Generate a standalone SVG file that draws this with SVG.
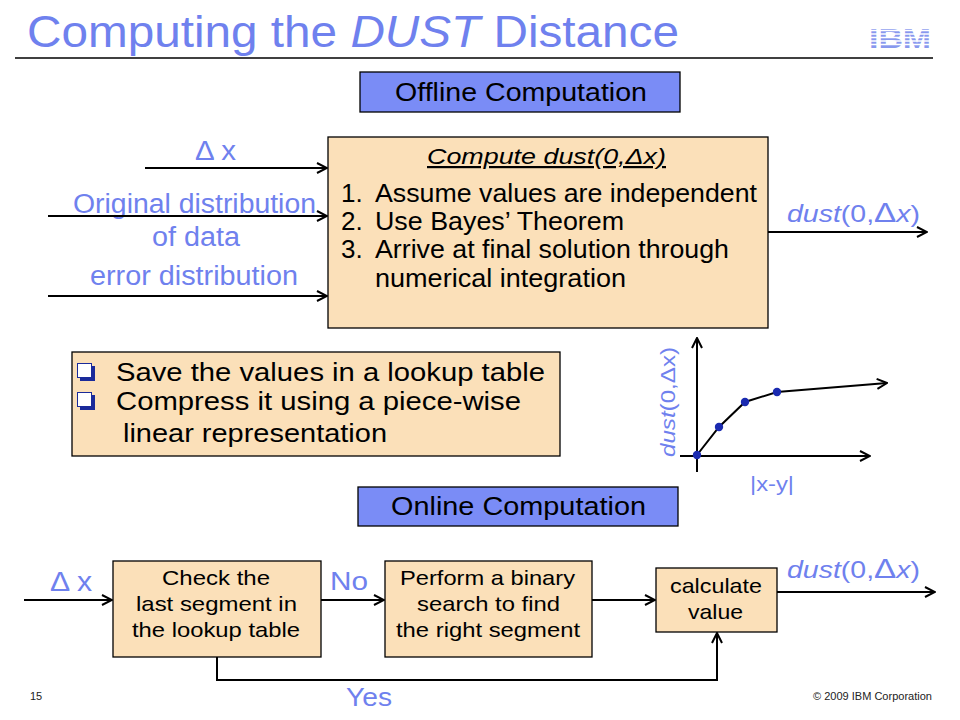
<svg xmlns="http://www.w3.org/2000/svg" width="960" height="720" viewBox="0 0 960 720">
<defs>
<style>
text{font-family:"Liberation Sans",Arial,sans-serif}
.blue{fill:#6f81ee}
.blk{fill:#000}
.peach{fill:#fbe0b9;stroke:#000;stroke-width:1.3}
.hdr{fill:#7a8cf6;stroke:#000;stroke-width:1.3}
.arr{stroke:#000;stroke-width:2;fill:none;marker-end:url(#ah)}
.dot{fill:#1a2ab0}
.bs{fill:#1a2a9a}
.bf{fill:#fff;stroke:#1a2a9a;stroke-width:1}
</style>
<marker id="ah" viewBox="0 0 12 12" refX="11" refY="6" markerWidth="12" markerHeight="12" markerUnits="userSpaceOnUse" orient="auto">
<path d="M1,1 L11,6 L1,11" fill="none" stroke="#000" stroke-width="2"/>
</marker>
</defs>
<rect width="960" height="720" fill="#fff"/>

<g id="title">
<text x="27" y="47" font-size="44" class="blue" textLength="652" lengthAdjust="spacingAndGlyphs">Computing the <tspan font-style="italic">DUST</tspan> Distance</text>
<line x1="15" y1="58" x2="933" y2="58" stroke="#000" stroke-width="1.5"/>
</g>
<g id="ibm-logo">
<text x="900" y="48" font-size="27" font-weight="bold" fill="#8898ee" text-anchor="middle" textLength="62" lengthAdjust="spacingAndGlyphs">IBM</text>
<g stroke="#fff" stroke-width="1.4">
<line x1="864" y1="27" x2="936" y2="27"/><line x1="864" y1="30.5" x2="936" y2="30.5"/><line x1="864" y1="34" x2="936" y2="34"/><line x1="864" y1="37.5" x2="936" y2="37.5"/><line x1="864" y1="41" x2="936" y2="41"/><line x1="864" y1="44.5" x2="936" y2="44.5"/>
</g>
</g>

<g id="offline-header">
<rect x="360" y="72" width="320" height="40" class="hdr"/>
<text x="395" y="101" font-size="26" class="blk" textLength="252" lengthAdjust="spacingAndGlyphs">Offline Computation</text>
</g>

<g id="compute-box">
<rect x="328" y="137" width="440" height="191" class="peach"/>
<text x="427" y="164" font-size="22" font-style="italic" text-decoration="underline" class="blk" textLength="239" lengthAdjust="spacingAndGlyphs">Compute dust(0,Δx)</text>
<text x="341" y="202" font-size="26" class="blk">1.</text>
<text x="375" y="202" font-size="26" class="blk" textLength="382" lengthAdjust="spacingAndGlyphs">Assume values are independent</text>
<text x="341" y="230" font-size="26" class="blk">2.</text>
<text x="375" y="230" font-size="26" class="blk" textLength="249" lengthAdjust="spacingAndGlyphs">Use Bayes’ Theorem</text>
<text x="341" y="258" font-size="26" class="blk">3.</text>
<text x="375" y="258" font-size="26" class="blk" textLength="354" lengthAdjust="spacingAndGlyphs">Arrive at final solution through</text>
<text x="375" y="287" font-size="26" class="blk" textLength="251" lengthAdjust="spacingAndGlyphs">numerical integration</text>
</g>

<g id="input-labels">
<text x="195" y="160" font-size="28" class="blue" textLength="41" lengthAdjust="spacingAndGlyphs">Δ x</text>
<text x="73" y="213" font-size="27" class="blue" textLength="243" lengthAdjust="spacingAndGlyphs">Original distribution</text>
<text x="152" y="246" font-size="27" class="blue" textLength="88" lengthAdjust="spacingAndGlyphs">of data</text>
<text x="90" y="285" font-size="27" class="blue" textLength="208" lengthAdjust="spacingAndGlyphs">error distribution</text>
<text x="787" y="222" font-size="24" class="blue" textLength="133" lengthAdjust="spacingAndGlyphs"><tspan font-style="italic">dust</tspan>(0,<tspan font-size="28">Δ</tspan><tspan font-style="italic">x</tspan>)</text>
</g>

<g id="bullet-box">
<rect x="72" y="352" width="488" height="104" class="peach"/>
<rect x="80" y="366" width="15" height="15" class="bs"/>
<rect x="77.5" y="363.5" width="14" height="14" class="bf"/>
<rect x="80" y="395" width="15" height="15" class="bs"/>
<rect x="77.5" y="392.5" width="14" height="14" class="bf"/>
<text x="116" y="381" font-size="25" class="blk" textLength="429" lengthAdjust="spacingAndGlyphs">Save the values in a lookup table</text>
<text x="116" y="410" font-size="25" class="blk" textLength="405" lengthAdjust="spacingAndGlyphs">Compress it using a piece-wise</text>
<text x="123" y="442" font-size="25" class="blk" textLength="264" lengthAdjust="spacingAndGlyphs">linear representation</text>
</g>

<g id="graph">
<line x1="697" y1="472" x2="697" y2="338" class="arr"/>
<line x1="680" y1="456" x2="870" y2="456" class="arr"/>
<polyline points="697,455 719,427 745,402 777,392 887,383" class="arr"/>
<circle cx="697" cy="455" r="4.2" class="dot"/>
<circle cx="719" cy="427" r="4.2" class="dot"/>
<circle cx="745" cy="402" r="4.2" class="dot"/>
<circle cx="777" cy="392" r="4.2" class="dot"/>
<text transform="translate(675,457) rotate(-90)" font-size="20" class="blue" textLength="110" lengthAdjust="spacingAndGlyphs"><tspan font-style="italic">dust</tspan>(0,Δx)</text>
<text x="750" y="491" font-size="20" class="blue" textLength="44" lengthAdjust="spacingAndGlyphs">|x-y|</text>
</g>

<g id="online-header">
<rect x="358" y="487" width="320" height="39" class="hdr"/>
<text x="391" y="515" font-size="26" class="blk" textLength="255" lengthAdjust="spacingAndGlyphs">Online Computation</text>
</g>

<g id="check-box">
<rect x="113" y="561" width="208" height="96" class="peach"/>
<text x="162" y="585" font-size="21" class="blk" textLength="108" lengthAdjust="spacingAndGlyphs">Check the</text>
<text x="136" y="611" font-size="21" class="blk" textLength="161" lengthAdjust="spacingAndGlyphs">last segment in</text>
<text x="132" y="637" font-size="21" class="blk" textLength="168" lengthAdjust="spacingAndGlyphs">the lookup table</text>
</g>

<g id="search-box">
<rect x="385" y="561" width="207" height="96" class="peach"/>
<text x="400" y="585" font-size="21" class="blk" textLength="175" lengthAdjust="spacingAndGlyphs">Perform a binary</text>
<text x="417" y="611" font-size="21" class="blk" textLength="143" lengthAdjust="spacingAndGlyphs">search to find</text>
<text x="396" y="637" font-size="21" class="blk" textLength="184" lengthAdjust="spacingAndGlyphs">the right segment</text>
</g>

<g id="calc-box">
<rect x="656" y="568" width="121" height="64" class="peach"/>
<text x="670" y="593" font-size="21" class="blk" textLength="92" lengthAdjust="spacingAndGlyphs">calculate</text>
<text x="688" y="619" font-size="21" class="blk" textLength="55" lengthAdjust="spacingAndGlyphs">value</text>
</g>

<g id="connectors">
<line x1="145" y1="168" x2="327" y2="168" class="arr"/>
<line x1="48" y1="216" x2="327" y2="216" class="arr"/>
<line x1="48" y1="296" x2="327" y2="296" class="arr"/>
<line x1="768" y1="232" x2="927" y2="232" class="arr"/>
<line x1="24" y1="600" x2="112" y2="600" class="arr"/>
<line x1="321" y1="600" x2="384" y2="600" class="arr"/>
<line x1="592" y1="600" x2="655" y2="600" class="arr"/>
<line x1="777" y1="592" x2="935" y2="592" class="arr"/>
<polyline points="217,657 217,680 717,680 717,633" class="arr"/>
</g>

<g id="bottom-labels">
<text x="50" y="591" font-size="28" class="blue" textLength="42" lengthAdjust="spacingAndGlyphs">Δ x</text>
<text x="330" y="590" font-size="26" class="blue" textLength="38" lengthAdjust="spacingAndGlyphs">No</text>
<text x="346" y="706" font-size="26" class="blue" textLength="46" lengthAdjust="spacingAndGlyphs">Yes</text>
<text x="787" y="578" font-size="24" class="blue" textLength="133" lengthAdjust="spacingAndGlyphs"><tspan font-style="italic">dust</tspan>(0,<tspan font-size="28">Δ</tspan><tspan font-style="italic">x</tspan>)</text>
</g>

<g id="footer">
<text x="30" y="700" font-size="11" fill="#222">15</text>
<text x="813" y="700" font-size="11" fill="#222" textLength="119" lengthAdjust="spacingAndGlyphs">© 2009 IBM Corporation</text>
</g>
</svg>
